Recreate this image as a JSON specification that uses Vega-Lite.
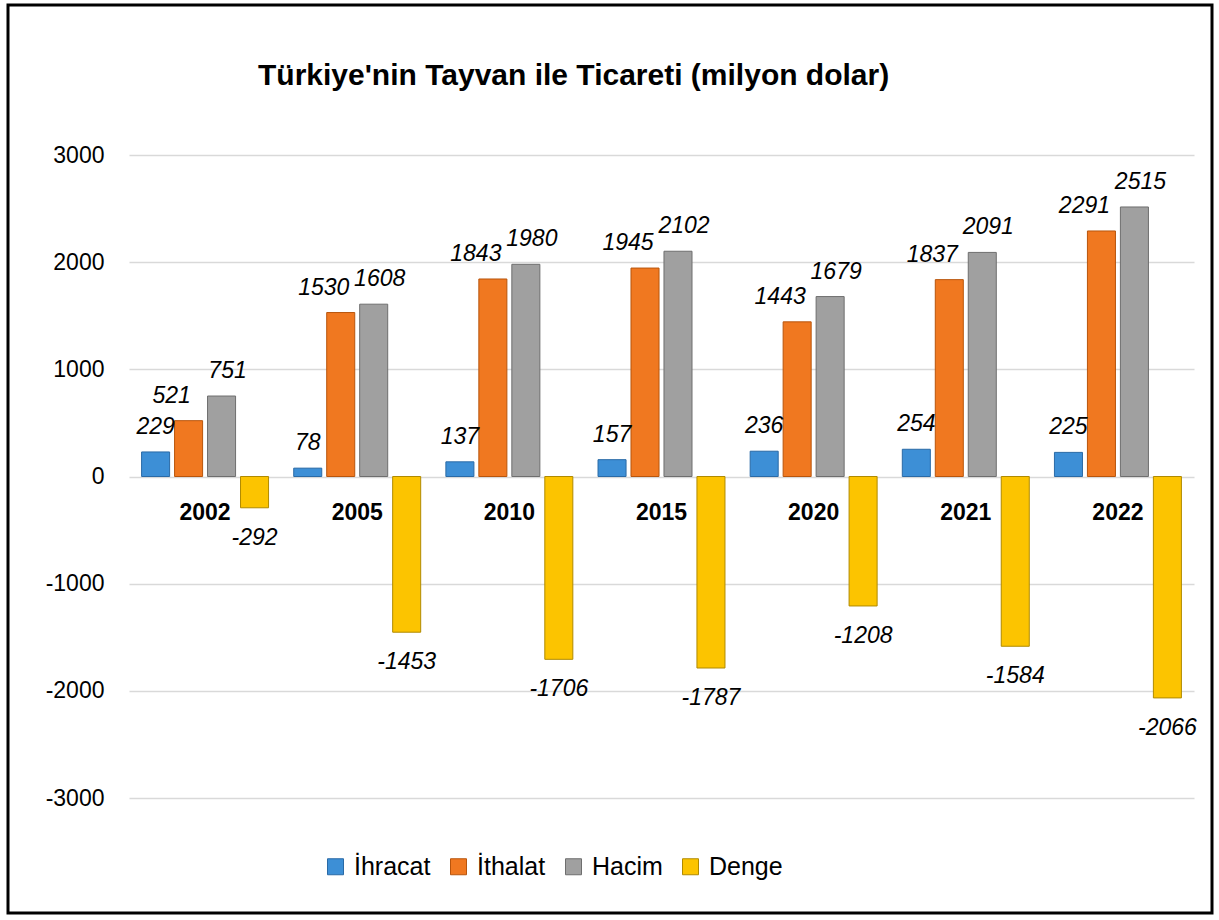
{
  "$schema": "https://vega.github.io/schema/vega-lite/v6.json",
  "width": 1204,
  "height": 908,
  "padding": {"left": 8, "top": 5, "right": 7, "bottom": 7},
  "autosize": {"type": "pad"},
  "config": {
    "view": {"stroke": "#000000", "strokeWidth": 3, "fill": "#ffffff"},
    "font": "Liberation Sans",
    "background": "#ffffff"
  },
  "title": {
    "text": "Türkiye'nin Tayvan ile Ticareti (milyon dolar)",
    "anchor": "start",
    "frame": "group",
    "orient": "top",
    "dx": 250,
    "offset": -86,
    "fontSize": 30,
    "fontWeight": "bold",
    "color": "#000000",
    "font": "Liberation Sans"
  },
  "data": {
    "values": [
      {"year": "2002", "series": "İhracat", "value": 229},
      {"year": "2002", "series": "İthalat", "value": 521},
      {"year": "2002", "series": "Hacim", "value": 751},
      {"year": "2002", "series": "Denge", "value": -292},
      {"year": "2005", "series": "İhracat", "value": 78},
      {"year": "2005", "series": "İthalat", "value": 1530},
      {"year": "2005", "series": "Hacim", "value": 1608},
      {"year": "2005", "series": "Denge", "value": -1453},
      {"year": "2010", "series": "İhracat", "value": 137},
      {"year": "2010", "series": "İthalat", "value": 1843},
      {"year": "2010", "series": "Hacim", "value": 1980},
      {"year": "2010", "series": "Denge", "value": -1706},
      {"year": "2015", "series": "İhracat", "value": 157},
      {"year": "2015", "series": "İthalat", "value": 1945},
      {"year": "2015", "series": "Hacim", "value": 2102},
      {"year": "2015", "series": "Denge", "value": -1787},
      {"year": "2020", "series": "İhracat", "value": 236},
      {"year": "2020", "series": "İthalat", "value": 1443},
      {"year": "2020", "series": "Hacim", "value": 1679},
      {"year": "2020", "series": "Denge", "value": -1208},
      {"year": "2021", "series": "İhracat", "value": 254},
      {"year": "2021", "series": "İthalat", "value": 1837},
      {"year": "2021", "series": "Hacim", "value": 2091},
      {"year": "2021", "series": "Denge", "value": -1584},
      {"year": "2022", "series": "İhracat", "value": 225},
      {"year": "2022", "series": "İthalat", "value": 2291},
      {"year": "2022", "series": "Hacim", "value": 2515},
      {"year": "2022", "series": "Denge", "value": -2066}
    ]
  },
  "encoding": {
    "x": {
      "field": "year",
      "type": "nominal",
      "axis": null,
      "scale": {"range": [121, 1186], "paddingInner": 0.133, "paddingOuter": 0.0665}
    }
  },
  "layer": [
    {
      "mark": {"type": "bar", "strokeWidth": 1},
      "encoding": {
        "xOffset": {
          "field": "series",
          "type": "nominal",
          "sort": ["İhracat", "İthalat", "Hacim", "Denge"],
          "scale": {"paddingInner": 0.15, "paddingOuter": 0.075}
        },
        "y": {
          "field": "value",
          "type": "quantitative",
          "scale": {"domain": [-3000, 3000], "range": [793, 150], "nice": false, "zero": false},
          "axis": {
            "values": [-3000, -2000, -1000, 0, 1000, 2000, 3000],
            "offset": -121,
            "ticks": false,
            "domain": false,
            "labelPadding": 25,
            "labelFontSize": 23,
            "labelColor": "#000000",
            "labelFont": "Liberation Sans",
            "labelExpr": "'' + datum.value",
            "grid": true,
            "gridColor": "#d9d9d9",
            "gridWidth": 1.5,
            "title": null
          }
        },
        "fill": {
          "field": "series",
          "type": "nominal",
          "sort": ["İhracat", "İthalat", "Hacim", "Denge"],
          "scale": {
            "domain": ["İhracat", "İthalat", "Hacim", "Denge"],
            "range": ["#3d8fd6", "#f07820", "#a0a0a0", "#fcc400"]
          },
          "legend": {
            "orient": "none",
            "legendX": 315,
            "legendY": 849,
            "direction": "horizontal",
            "title": null,
            "symbolType": "square",
            "symbolSize": 256,
            "labelFontSize": 25,
            "labelFont": "Liberation Sans",
            "labelColor": "#000000",
            "labelOffset": 6,
            "columnPadding": 15,
            "symbolStrokeWidth": 1
          }
        },
        "stroke": {
          "field": "series",
          "type": "nominal",
          "sort": ["İhracat", "İthalat", "Hacim", "Denge"],
          "scale": {
            "domain": ["İhracat", "İthalat", "Hacim", "Denge"],
            "range": ["#2a6aa6", "#b8550c", "#6e6e6e", "#b08a00"]
          },
          "legend": null
        }
      }
    },
    {
      "transform": [{"filter": "datum.series == 'İhracat'"}],
      "mark": {"type": "text", "baseline": "alphabetic", "dy": -18, "fontSize": 23, "fontStyle": "italic", "color": "#000000", "font": "Liberation Sans"},
      "encoding": {
        "xOffset": {"field": "series", "type": "nominal", "sort": ["İhracat", "İthalat", "Hacim", "Denge"]},
        "y": {"field": "value", "type": "quantitative"},
        "text": {"field": "value", "type": "nominal"}
      }
    },
    {
      "transform": [{"filter": "datum.series == 'İthalat'"}],
      "mark": {"type": "text", "baseline": "alphabetic", "dx": -17, "dy": -18, "fontSize": 23, "fontStyle": "italic", "color": "#000000", "font": "Liberation Sans"},
      "encoding": {
        "xOffset": {"field": "series", "type": "nominal", "sort": ["İhracat", "İthalat", "Hacim", "Denge"]},
        "y": {"field": "value", "type": "quantitative"},
        "text": {"field": "value", "type": "nominal"}
      }
    },
    {
      "transform": [{"filter": "datum.series == 'Hacim'"}],
      "mark": {"type": "text", "baseline": "alphabetic", "dx": 6, "dy": -18, "fontSize": 23, "fontStyle": "italic", "color": "#000000", "font": "Liberation Sans"},
      "encoding": {
        "xOffset": {"field": "series", "type": "nominal", "sort": ["İhracat", "İthalat", "Hacim", "Denge"]},
        "y": {"field": "value", "type": "quantitative"},
        "text": {"field": "value", "type": "nominal"}
      }
    },
    {
      "transform": [{"filter": "datum.series == 'Denge'"}],
      "mark": {"type": "text", "baseline": "alphabetic", "dy": 37, "fontSize": 23, "fontStyle": "italic", "color": "#000000", "font": "Liberation Sans"},
      "encoding": {
        "xOffset": {"field": "series", "type": "nominal", "sort": ["İhracat", "İthalat", "Hacim", "Denge"]},
        "y": {"field": "value", "type": "quantitative"},
        "text": {"field": "value", "type": "nominal"}
      }
    },
    {
      "transform": [{"filter": "datum.series == 'İhracat'"}],
      "mark": {"type": "text", "baseline": "alphabetic", "dy": 43, "fontSize": 23, "fontWeight": "bold", "color": "#000000", "font": "Liberation Sans"},
      "encoding": {
        "y": {"datum": 0, "type": "quantitative"},
        "text": {"field": "year", "type": "nominal"}
      }
    }
  ]
}
